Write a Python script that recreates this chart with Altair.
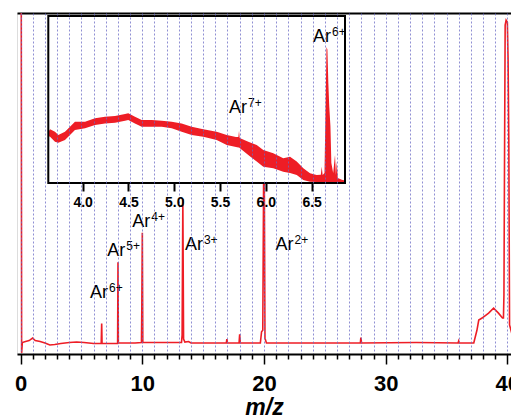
import altair as alt
import pandas as pd

# ---------------- main spectrum (m/z, intensity in arbitrary units) ----------------
MAIN_MZ = [0.00, 0.05, 0.08, 0.14, 0.40, 0.70, 0.98, 1.20, 1.60, 2.00, 2.40, 2.80,
           3.30, 4.00, 4.60, 5.20, 6.00, 6.62, 6.66, 6.69, 7.40, 7.97, 8.00, 8.03,
           8.60, 9.40, 9.93, 9.96, 10.00, 10.04, 10.50, 11.50, 12.50, 13.22, 13.27,
           13.33, 13.39, 13.50, 13.80, 14.00, 15.50, 16.90, 16.95, 17.00, 17.95,
           18.00, 18.05, 19.70, 19.80, 19.90, 20.00, 20.08, 20.20, 24.00, 27.92,
           27.96, 28.02, 32.50, 35.95, 36.00, 36.05, 37.24, 37.50, 37.65, 37.92,
           38.46, 38.87, 39.27, 39.60, 39.68, 39.72, 39.76, 39.82, 39.90, 40.00,
           40.06, 40.12, 40.18, 40.45, 40.58]
MAIN_INT = [7.20, 7.20, -0.16, 0.05, 0.07, 0.09, 0.14, 0.09, 0.07, 0.04, 0.00, 0.01,
            0.03, 0.05, 0.06, 0.05, 0.03, 0.03, 0.44, 0.03, 0.03, 0.03, 1.69, 0.04,
            0.04, 0.04, 0.05, 0.78, 2.29, 0.05, 0.05, 0.05, 0.05, 0.05, 0.20,
            2.98, 0.12, 0.06, 0.07, 0.04, 0.04, 0.04, 0.12, 0.04, 0.04,
            0.22, 0.04, 0.04, 0.27, 0.30, 4.80, 0.14, 0.04, 0.04, 0.04,
            0.15, 0.04, 0.05, 0.04, 0.08, 0.04, 0.04, 0.30, 0.51, 0.55,
            0.65, 0.75, 0.65, 0.55, 0.55, 1.02, 3.31, 6.53, 6.63, 6.59,
            5.82, 4.18, 0.41, 0.16, 0.12]

MAIN_X_DOMAIN = [-0.3, 40.3]
MAIN_Y_DOMAIN = [-0.184, 6.776]
MAIN_X_TICKS = list(range(0, 41))
MAIN_Y_TICKS = [0, 1, 2, 3, 4, 5, 6]

MAIN_LABEL_CHARGE = ["6+", "5+", "4+", "3+", "2+"]
MAIN_LABEL_MZ = [5.70, 7.12, 9.18, 13.50, 20.95]
MAIN_LABEL_INT = [0.96, 1.82, 2.41, 1.94, 1.94]

# ---------------- inset (zoom on m/z 3.6 - 6.9), noisy band as envelopes ----------------
INSET_MZ = [3.630, 3.644, 3.698, 3.734, 3.807, 3.862, 3.916, 4.026, 4.135, 4.244,
            4.353, 4.463, 4.498, 4.571, 4.645, 4.754, 4.863, 4.972, 5.081, 5.190,
            5.317, 5.463, 5.573, 5.674, 5.700, 5.707, 5.714, 5.808, 5.900, 5.972,
            6.081, 6.190, 6.264, 6.337, 6.409, 6.482, 6.555, 6.600, 6.610, 6.620,
            6.640, 6.652, 6.662, 6.672, 6.682, 6.692, 6.705, 6.715, 6.735, 6.755,
            6.765, 6.774, 6.785, 6.830, 6.864]
INSET_UPPER = [31.0, 32.2, 30.7, 28.7, 30.7, 33.7, 36.7, 36.7, 38.7, 39.7,
               40.1, 41.3, 41.7, 39.7, 37.7, 37.7, 37.3, 36.7, 35.7, 33.7,
               32.2, 30.7, 28.7, 27.5, 27.6, 31.3, 27.0, 24.7, 22.8, 19.8,
               17.8, 14.8, 15.7, 12.8, 8.8, 5.8, 4.8, 5.0, 9.8, 4.8,
               6.0, 45.0, 81.5, 80.0, 60.0, 46.0, 34.0, 12.0, 6.0, 16.8,
               5.0, 12.8, 3.0, 2.0, 1.5]
INSET_LOWER = [28.0, 27.7, 24.7, 24.1, 25.7, 28.7, 31.7, 32.8, 34.7, 35.7,
               36.1, 37.3, 37.7, 35.7, 33.7, 33.7, 33.7, 32.8, 30.7, 28.7,
               27.7, 25.7, 22.8, 21.6, 21.3, 21.2, 21.0, 16.8, 12.8, 9.8,
               8.8, 6.8, 6.0, 4.8, 1.8, 0.8, 0.6, 0.6, 0.6, 0.6,
               0.6, 0.6, 0.6, 0.6, 0.6, 0.6, 0.6, 0.6, 0.6, 0.6,
               0.6, 0.6, 0.6, 0.6, 0.6]
INSET_X_DOMAIN = [3.625, 6.864]
INSET_Y_DOMAIN = [0, 100]
INSET_X_TICKS = [4.0, 4.5, 5.0, 5.5, 6.0, 6.5]

INSET_LABEL_CHARGE = ["7+", "6+"]
INSET_LABEL_MZ = [5.598, 6.515]
INSET_LABEL_INT = [41.9, 84.4]

RED = "#ee1d25"
FONT = "Liberation Sans"
W, H = 494, 341

# ---------------- main group ----------------
main_df = pd.DataFrame({"mz": MAIN_MZ, "intensity": MAIN_INT})
main_lab = pd.DataFrame({"mz": MAIN_LABEL_MZ, "intensity": MAIN_LABEL_INT,
                         "base": ["Ar"] * len(MAIN_LABEL_MZ), "charge": MAIN_LABEL_CHARGE})

mx = alt.Scale(domain=MAIN_X_DOMAIN, nice=False, zero=False)
my = alt.Scale(domain=MAIN_Y_DOMAIN, nice=False, zero=False)

bottom_axis = alt.Axis(
    orient="bottom", values=MAIN_X_TICKS,
    labelExpr="datum.value % 10 === 0 ? datum.label : ''",
    labelFont=FONT, labelFontSize=22, labelFontWeight="bold", labelColor="black",
    labelPadding=9, labelFlush=False, labelOverlap=False,
    tickSize={"condition": {"test": "datum.value % 10 === 0", "value": 10}, "value": 5},
    tickWidth=1.5, tickColor="black",
    domainColor="black", domainWidth=2,
    grid=True, gridDash=[2, 2], gridColor="#6a6ac4", gridOpacity=0.75, gridWidth=1,
    title="m/z", titleFont=FONT, titleFontSize=23, titleFontStyle="italic",
    titleFontWeight="bold", titleColor="black", titlePadding=2, zindex=1,
)
top_axis = alt.Axis(orient="top", domain=True, domainColor="black", domainWidth=2,
                    ticks=False, labels=False, grid=False, title=None)
left_axis = alt.Axis(orient="left", values=MAIN_Y_TICKS, labels=False, tickSize=10,
                     tickWidth=2, tickColor="black", domainColor="black",
                     domainWidth=2, grid=False, title=None)

spectrum = alt.Chart(main_df).mark_line(color=RED, strokeWidth=1.6, clip=True).encode(
    x=alt.X("mz:Q", scale=mx, axis=bottom_axis),
    y=alt.Y("intensity:Q", scale=my, axis=left_axis),
    order="mz:Q",
)
lab_base = alt.Chart(main_lab).mark_text(align="left", baseline="alphabetic",
                                         fontSize=18, font=FONT, color="black").encode(
    x=alt.X("mz:Q", scale=mx, axis=top_axis),
    y=alt.Y("intensity:Q", scale=my, axis=None),
    text="base:N",
)
lab_sup = alt.Chart(main_lab).mark_text(align="left", baseline="alphabetic", dx=19, dy=-6,
                                        fontSize=12, font=FONT, color="black").encode(
    x=alt.X("mz:Q", scale=mx, axis=None),
    y=alt.Y("intensity:Q", scale=my, axis=None),
    text="charge:N",
)
main_group = alt.layer(spectrum, lab_base, lab_sup).resolve_axis(x="independent")

# ---------------- inset group ----------------
ix = alt.Scale(domain=INSET_X_DOMAIN, range=[31.3, 328], nice=False, zero=False)
iy = alt.Scale(domain=INSET_Y_DOMAIN, range=[170, 3], nice=False, zero=False)

inset_axis = alt.Axis(orient="bottom", offset=-171, values=INSET_X_TICKS, format=".1f",
                      labelFont=FONT, labelFontSize=14, labelFontWeight="bold",
                      labelColor="black", labelPadding=4, labelFlush=False,
                      labelOverlap=False, tickSize=8, tickWidth=2, tickColor="black",
                      domain=False, grid=False, title=None, zindex=1)

frame_df = pd.DataFrame({"x0": [INSET_X_DOMAIN[0]], "x1": [INSET_X_DOMAIN[1]],
                         "y0": [INSET_Y_DOMAIN[0]], "y1": [INSET_Y_DOMAIN[1]]})
inset_df = pd.DataFrame({"mz": INSET_MZ, "hi": INSET_UPPER, "lo": INSET_LOWER})
inset_lab = pd.DataFrame({"mz": INSET_LABEL_MZ, "v": INSET_LABEL_INT,
                          "base": ["Ar"] * len(INSET_LABEL_MZ), "charge": INSET_LABEL_CHARGE})

frame_fill = alt.Chart(frame_df).mark_rect(fill="white", stroke=None).encode(
    x=alt.X("x0:Q", scale=ix, axis=None), x2="x1:Q",
    y=alt.Y("y0:Q", scale=iy, axis=None), y2="y1:Q",
)
band = alt.Chart(inset_df).mark_area(color=RED, opacity=1, clip=True).encode(
    x=alt.X("mz:Q", scale=ix, axis=inset_axis),
    y=alt.Y("hi:Q", scale=iy, axis=None), y2="lo:Q",
)
frame_line = alt.Chart(frame_df).mark_rect(fill=None, stroke="black", strokeWidth=2).encode(
    x=alt.X("x0:Q", scale=ix, axis=None), x2="x1:Q",
    y=alt.Y("y0:Q", scale=iy, axis=None), y2="y1:Q",
)
ilab_base = alt.Chart(inset_lab).mark_text(align="left", baseline="alphabetic",
                                           fontSize=18, font=FONT, color="black").encode(
    x=alt.X("mz:Q", scale=ix, axis=None),
    y=alt.Y("v:Q", scale=iy, axis=None),
    text="base:N",
)
ilab_sup = alt.Chart(inset_lab).mark_text(align="left", baseline="alphabetic", dx=19, dy=-6,
                                          fontSize=12, font=FONT, color="black").encode(
    x=alt.X("mz:Q", scale=ix, axis=None),
    y=alt.Y("v:Q", scale=iy, axis=None),
    text="charge:N",
)
inset_group = alt.layer(frame_fill, band, frame_line, ilab_base, ilab_sup).resolve_axis(
    x="independent")

chart = (
    alt.layer(main_group, inset_group)
    .resolve_scale(x="independent", y="independent")
    .properties(width=W, height=H,
                padding={"left": 9, "top": 5, "right": 0, "bottom": 65},
                autosize=alt.AutoSizeParams(type="none"))
    .configure_view(stroke=None)
    .configure(font=FONT, background="white")
)

chart.save("out.html", embed_options={"renderer": "svg", "actions": False})
